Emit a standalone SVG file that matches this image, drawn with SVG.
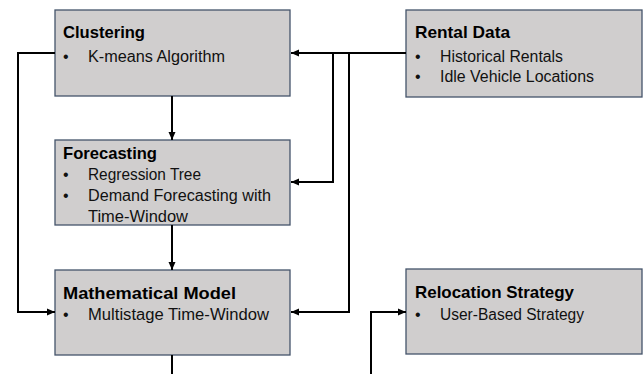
<svg xmlns="http://www.w3.org/2000/svg" width="644" height="374" viewBox="0 0 644 374">
<defs>
<marker id="ah" markerWidth="9" markerHeight="8" refX="8" refY="4" orient="auto" markerUnits="userSpaceOnUse">
<path d="M0,0.5 L8,4 L0,7.5 Z" fill="#000"/>
</marker>
<style>
.box{fill:#d0cece;stroke:#44546a;stroke-width:1.3}
.t{font-family:"Liberation Sans",Arial,sans-serif;font-weight:bold;font-size:17px;fill:#000}
.b{font-family:"Liberation Sans",Arial,sans-serif;font-size:16px;fill:#111}
.c{fill:none;stroke:#000;stroke-width:2}
</style>
</defs>
<rect width="644" height="374" fill="#fff"/>
<g id="clustering">
<rect class="box" x="55" y="10" width="235" height="86"/>
<text class="t" x="63" y="38" textLength="82" lengthAdjust="spacingAndGlyphs">Clustering</text>
<text class="b" x="63" y="62">•</text>
<text class="b" x="88" y="62" textLength="137" lengthAdjust="spacingAndGlyphs">K-means Algorithm</text>
</g>
<g id="forecasting">
<rect class="box" x="55" y="140" width="235" height="85"/>
<text class="t" x="63" y="159" textLength="94" lengthAdjust="spacingAndGlyphs">Forecasting</text>
<text class="b" x="63" y="180">•</text>
<text class="b" x="88" y="180" textLength="113" lengthAdjust="spacingAndGlyphs">Regression Tree</text>
<text class="b" x="63" y="201">•</text>
<text class="b" x="88" y="201" textLength="183" lengthAdjust="spacingAndGlyphs">Demand Forecasting with</text>
<text class="b" x="88" y="222" textLength="100" lengthAdjust="spacingAndGlyphs">Time-Window</text>
</g>
<g id="model">
<rect class="box" x="55" y="270" width="235" height="85"/>
<text class="t" x="63" y="299" textLength="173" lengthAdjust="spacingAndGlyphs">Mathematical Model</text>
<text class="b" x="63" y="320">•</text>
<text class="b" x="88" y="320" textLength="181" lengthAdjust="spacingAndGlyphs">Multistage Time-Window</text>
</g>
<g id="rental">
<rect class="box" x="406" y="10" width="236" height="87"/>
<text class="t" x="415" y="38" textLength="95" lengthAdjust="spacingAndGlyphs">Rental Data</text>
<text class="b" x="415" y="62">•</text>
<text class="b" x="440" y="62" textLength="123" lengthAdjust="spacingAndGlyphs">Historical Rentals</text>
<text class="b" x="415" y="82">•</text>
<text class="b" x="440" y="82" textLength="154" lengthAdjust="spacingAndGlyphs">Idle Vehicle Locations</text>
</g>
<g id="relocation">
<rect class="box" x="406" y="269" width="236" height="85"/>
<text class="t" x="415" y="298" textLength="159" lengthAdjust="spacingAndGlyphs">Relocation Strategy</text>
<text class="b" x="415" y="320">•</text>
<text class="b" x="440" y="320" textLength="144" lengthAdjust="spacingAndGlyphs">User-Based Strategy</text>
</g>
<g id="connectors">
<path class="c" d="M406,53 H291" marker-end="url(#ah)"/>
<path class="c" d="M333,53 V182 H291" marker-end="url(#ah)"/>
<path class="c" d="M349,53 V312 H291" marker-end="url(#ah)"/>
<path class="c" d="M55,53 H18 V312 H55" marker-end="url(#ah)"/>
<path class="c" d="M172,96 V140" marker-end="url(#ah)"/>
<path class="c" d="M172,225 V270" marker-end="url(#ah)"/>
<path class="c" d="M172,355 V375"/>
<path class="c" d="M371,375 V312 H406" marker-end="url(#ah)"/>
</g>
</svg>
